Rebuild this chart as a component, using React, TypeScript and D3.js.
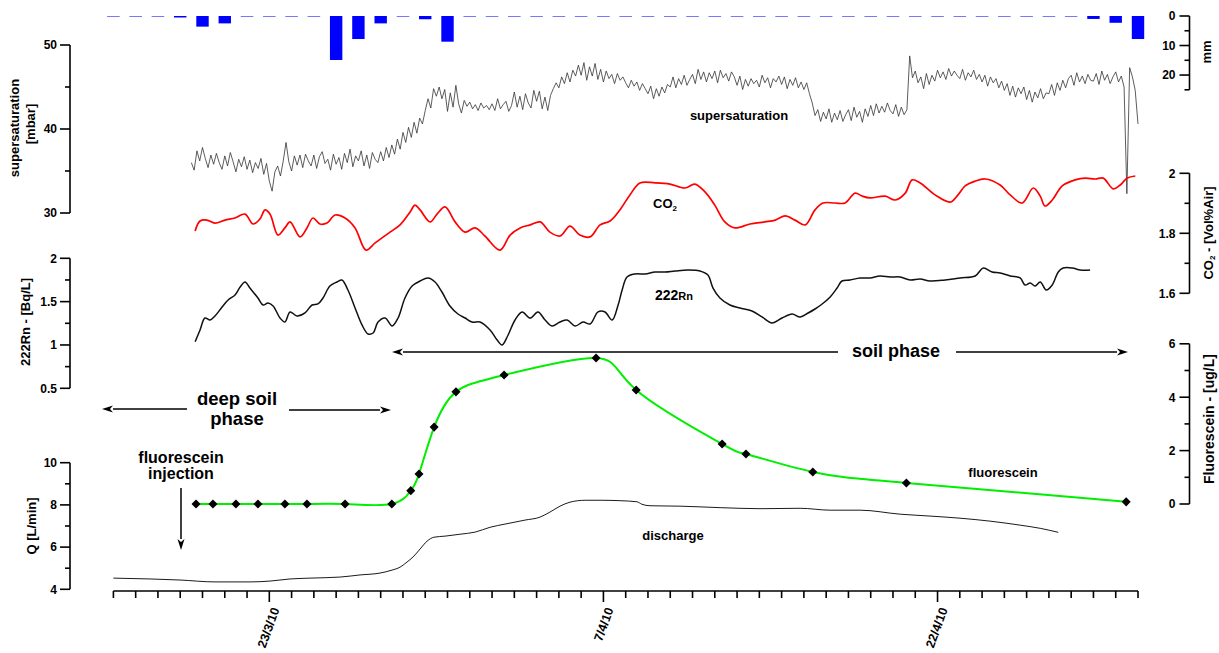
import React from 'react';
import * as d3 from 'd3';

// ---------- DATA ----------
const START = Date.UTC(2010, 2, 16);
const END = Date.UTC(2010, 4, 1);
const dayDate = (d: number) => new Date(START + d * 864e5);

// daily precipitation (mm), day 0 = 16/3/10
const rainDaily = [0, 0, 0, 0.4, 3.6, 2.5, 0, 0, 0, 0, 14.9, 7.8, 2.5, 0, 1.1, 8.7,
  0, 0, 0, 0, 0, 0, 0, 0, 0, 0, 0, 0, 0, 0, 0, 0, 0, 0, 0, 0, 0, 0, 0, 0, 0, 0, 0, 0,
  1.0, 2.3, 7.8];

// supersaturation [mbar], regular 3-hourly samples starting at day 3.5
const ssStart = 3.5;
const ssStep = 0.125;
const ssValues = [
  36.0, 35.1, 37.4, 36.2,
  37.8, 36.5, 35.4, 36.9, 35.8, 37.1, 36.0, 35.2,
  36.8, 35.6, 37.2, 36.1, 34.9, 36.4, 35.5, 36.7,
  35.2, 36.3, 34.8, 36.0, 35.3, 36.5, 34.6, 35.9,
  33.8, 32.6, 34.9, 35.6, 34.4, 36.2, 38.4, 36.1,
  35.0, 36.8, 35.7, 36.9, 35.4, 37.0, 36.2, 35.6,
  36.9, 35.3, 36.7, 37.3, 35.9, 36.4, 35.1, 37.0,
  35.8, 36.6, 35.2, 37.1, 36.0, 37.6, 35.5, 36.8,
  36.2, 37.4, 35.6, 36.9, 35.3, 37.2, 36.4, 36.0,
  37.3, 36.2, 37.8, 36.6, 38.1, 37.0, 38.8, 37.6,
  39.6, 38.4, 40.2, 39.0, 40.8, 39.5, 41.3, 40.6,
  42.2, 43.6, 42.5, 44.8, 43.9, 45.0, 43.6, 44.7,
  42.1, 44.3, 42.6, 45.2, 43.0, 41.9, 43.4, 42.7,
  43.2, 42.4, 42.9, 42.2, 43.1, 42.5, 42.8, 42.3,
  43.0, 42.2, 43.6, 42.4, 42.9, 43.3, 42.1, 42.8,
  44.4, 42.6, 43.9, 42.3, 44.2, 43.1, 42.5, 44.6,
  43.3, 44.5, 42.4, 43.8, 42.2, 44.0, 44.8, 45.5,
  44.9, 46.2, 45.4, 46.7, 45.6, 47.0, 46.3, 47.6,
  46.4, 47.9, 45.8, 47.4, 46.3, 47.8, 45.9, 47.1,
  45.6, 46.9, 46.0, 46.5, 45.4, 46.6, 45.8, 46.2,
  45.5, 44.9, 45.8, 45.1, 45.6, 44.6, 45.4, 44.8,
  44.2, 45.1, 43.6, 44.8, 43.9, 45.0, 44.3, 45.3,
  45.0, 46.2, 44.9, 46.0, 45.3, 46.4, 45.2, 45.9,
  46.5, 45.4, 47.1, 45.9, 46.8, 45.6, 46.7, 46.0,
  46.9, 45.5, 47.0, 46.1, 46.6, 45.7, 46.8, 46.2,
  45.2, 46.3, 44.7, 45.9, 45.1, 46.0, 45.4, 45.8,
  45.0, 46.4, 45.5, 46.1, 44.9, 46.0, 45.6, 46.3,
  45.3, 46.2, 44.8, 45.9, 45.2, 46.1, 44.9, 45.6,
  44.7, 45.5, 44.2, 43.1, 41.6, 42.3, 40.9, 42.0,
  41.2, 42.4, 40.8, 41.9, 41.1, 42.2, 40.9, 41.7,
  42.3, 41.0, 42.6, 41.4, 42.1, 40.8, 42.4, 41.5,
  42.8, 41.6, 43.0, 41.9, 42.7, 42.0, 43.1, 42.2,
  41.8, 42.9, 41.5, 42.6, 41.7, 42.3, 48.7, 46.1,
  46.9, 45.5, 46.2, 44.8, 46.6, 45.3, 46.4, 45.7,
  47.0, 46.1, 46.8, 45.9, 47.2, 46.3, 46.9, 46.4,
  46.0, 47.1, 45.8, 46.7, 46.2, 47.0, 45.9, 46.5,
  45.6, 46.4, 45.1, 46.2, 45.5, 46.0, 44.9, 45.7,
  44.6, 45.4, 44.0, 45.1, 43.8, 44.9, 44.2, 45.0,
  43.5, 44.6, 43.2, 44.4, 43.7, 44.8, 43.6, 44.3,
  44.2, 45.3, 44.0, 45.5, 44.6, 45.8, 44.9, 46.0,
  46.4, 45.2, 46.7, 45.6, 46.3, 45.4, 46.5, 45.8,
  45.7, 46.6, 45.3, 46.9, 45.8, 46.5, 45.4, 46.2,
  46.8, 45.6, 46.3, 45.0, 32.3, 47.3, 46.2, 44.6,
  40.6,
];

// CO2 [Vol% Air] : [day, value]
const co2 = [
  [3.67, 1.808], [3.89, 1.841], [4.2, 1.844], [4.56, 1.834], [5.01, 1.844], [5.46, 1.851], [5.91, 1.864], [6.27, 1.831], [6.58, 1.848], [6.81, 1.878],
  [7.03, 1.864], [7.39, 1.794], [7.7, 1.818], [7.93, 1.838], [8.38, 1.788], [8.69, 1.818], [8.96, 1.851], [9.27, 1.831], [9.59, 1.834], [9.95, 1.861],
  [10.4, 1.851], [10.85, 1.818], [11.34, 1.744], [11.75, 1.768], [12.42, 1.804], [12.87, 1.828], [13.32, 1.871], [13.54, 1.894], [13.77, 1.878], [14.22, 1.838],
  [14.53, 1.864], [14.89, 1.888], [15.34, 1.838], [15.79, 1.804], [16.24, 1.818], [16.68, 1.791], [17.36, 1.744], [17.81, 1.794], [18.26, 1.818], [18.71, 1.828],
  [19.16, 1.838], [19.6, 1.804], [20.05, 1.791], [20.5, 1.824], [20.94, 1.794], [21.4, 1.788], [21.85, 1.828], [22.3, 1.841], [22.74, 1.878], [23.19, 1.928],
  [23.64, 1.968], [24.32, 1.968], [24.99, 1.964], [25.66, 1.951], [26.1, 1.964], [26.56, 1.938], [27.0, 1.894], [27.45, 1.838], [27.9, 1.818], [28.58, 1.831],
  [29.25, 1.838], [29.72, 1.844], [30.16, 1.858], [30.6, 1.844], [31.06, 1.828], [31.5, 1.878], [31.86, 1.901], [32.4, 1.901], [32.85, 1.901], [33.3, 1.934],
  [33.62, 1.924], [33.97, 1.918], [34.65, 1.924], [35.1, 1.911], [35.55, 1.934], [35.86, 1.978], [36.22, 1.968], [36.89, 1.928], [37.57, 1.904], [37.92, 1.928],
  [38.24, 1.958], [38.69, 1.974], [39.14, 1.981], [39.81, 1.961], [40.26, 1.928], [40.8, 1.901], [41.3, 1.951], [41.61, 1.924], [41.83, 1.891], [42.15, 1.911],
  [42.6, 1.958], [43.18, 1.978], [43.63, 1.984], [44.08, 1.981], [44.44, 1.984], [44.89, 1.948], [45.2, 1.961], [45.52, 1.984], [45.88, 1.991],
];

// 222Rn [Bq/L] : [day, value]
const radon = [
  [3.67, 1.038], [3.89, 1.173], [4.11, 1.311], [4.34, 1.288], [4.56, 1.334], [4.88, 1.438], [5.15, 1.519], [5.46, 1.577], [5.69, 1.669], [5.91, 1.727],
  [6.13, 1.657], [6.49, 1.542], [6.72, 1.461], [6.94, 1.484], [7.17, 1.45], [7.48, 1.311], [7.7, 1.265], [7.93, 1.381], [8.24, 1.334], [8.6, 1.369],
  [8.92, 1.461], [9.18, 1.473], [9.41, 1.542], [9.72, 1.68], [10.04, 1.727], [10.26, 1.75], [10.53, 1.634], [10.85, 1.427], [11.16, 1.231], [11.43, 1.127],
  [11.66, 1.138], [11.88, 1.265], [12.2, 1.311], [12.51, 1.219], [12.78, 1.311], [13.09, 1.542], [13.41, 1.68], [13.77, 1.738], [14.13, 1.773], [14.44, 1.727],
  [14.75, 1.611], [15.11, 1.45], [15.47, 1.357], [15.79, 1.311], [16.1, 1.265], [16.46, 1.265], [16.91, 1.173], [17.23, 1.057], [17.45, 1.0], [17.72, 1.115],
  [18.03, 1.288], [18.35, 1.381], [18.71, 1.311], [19.06, 1.381], [19.38, 1.288], [19.69, 1.219], [20.05, 1.265], [20.37, 1.288], [20.73, 1.219], [21.09, 1.265],
  [21.4, 1.242], [21.76, 1.381], [22.07, 1.381], [22.39, 1.288], [22.66, 1.461], [22.84, 1.634], [23.06, 1.784], [23.42, 1.819], [23.87, 1.819], [24.32, 1.842],
  [24.77, 1.842], [25.22, 1.854], [25.8, 1.865], [26.33, 1.854], [26.69, 1.807], [26.92, 1.657], [27.23, 1.542], [27.68, 1.461], [28.13, 1.427], [28.67, 1.392],
  [29.12, 1.323], [29.57, 1.254], [30.02, 1.311], [30.47, 1.357], [30.83, 1.323], [31.19, 1.369], [31.5, 1.415], [31.82, 1.473], [32.18, 1.554], [32.49, 1.657],
  [32.71, 1.738], [33.07, 1.75], [33.52, 1.773], [33.97, 1.773], [34.42, 1.796], [34.87, 1.784], [35.32, 1.784], [35.77, 1.75], [36.22, 1.761], [36.66, 1.738],
  [37.34, 1.75], [38.01, 1.773], [38.69, 1.796], [39.05, 1.888], [39.45, 1.842], [39.81, 1.83], [40.26, 1.796], [40.71, 1.773], [40.93, 1.692], [41.16, 1.715],
  [41.38, 1.68], [41.61, 1.727], [41.88, 1.634], [42.15, 1.692], [42.42, 1.842], [42.64, 1.888], [43.05, 1.888], [43.41, 1.865], [43.85, 1.865],
];

// discharge Q [L/min] : [day, value]
const discharge = [
  [0, 4.53], [1.65, 4.49], [2.99, 4.44], [4.56, 4.35], [6.13, 4.35], [7.03, 4.39], [7.93, 4.49], [8.83, 4.53], [10.18, 4.58], [11.07, 4.68],
  [11.97, 4.77], [12.51, 4.91], [12.87, 5.05], [13.18, 5.29], [13.45, 5.53], [13.77, 5.91], [14.08, 6.28], [14.4, 6.47], [14.89, 6.52], [15.56, 6.61],
  [16.24, 6.71], [16.91, 6.94], [17.58, 7.09], [18.48, 7.28], [19.15, 7.42], [19.6, 7.66], [20.05, 7.94], [20.5, 8.13], [21.18, 8.22], [21.85, 8.22],
  [22.74, 8.2], [23.5, 8.15], [23.73, 8.03], [24.09, 7.96], [25.44, 7.94], [27.24, 7.87], [29.03, 7.82], [30.83, 7.84], [32.18, 7.75], [33.52, 7.75],
  [35.32, 7.56], [36.67, 7.47], [38.01, 7.37], [39.36, 7.23], [40.71, 7.04], [41.61, 6.89], [42.42, 6.7],
];

// fluorescein [ug/L] samples : [day, value]
const fluorescein = [
  [3.71, 0], [4.47, 0], [5.5, 0], [6.49, 0], [7.7, 0], [8.69, 0], [10.4, 0], [12.5, 0],
  [13.35, 0.5], [13.72, 1.12], [14.4, 2.88], [15.38, 4.2], [17.54, 4.83], [21.67, 5.47],
  [23.47, 4.27], [27.33, 2.25], [28.4, 1.87], [31.4, 1.2], [35.6, 0.79], [45.47, 0.08],
];

const majorTickDates = [Date.UTC(2010, 2, 23), Date.UTC(2010, 3, 7), Date.UTC(2010, 3, 22)];
const ssTicks = [30, 40, 50];
const ssMinor = [35, 45];
const rnTicks = [0.5, 1, 1.5, 2];
const rnMinor = [0.75, 1.25, 1.75];
const qTicks = [4, 6, 8, 10];
const qMinor = [5, 7, 9];
const mmTicks = [0, 10, 20];
const mmMinor = [5, 15, 25];
const co2Ticks = [1.6, 1.8, 2];
const co2Minor = [1.7, 1.9];
const flTicks = [0, 2, 4, 6];
const flMinor = [1, 3, 5];

// ---------- CHART ----------
const W = 1219;
const H = 653;
const FONT = "'Liberation Sans', Arial, Helvetica, sans-serif";

const x = d3.scaleUtc().domain([new Date(START), new Date(END)]).range([113.4, 1138]);
const ySS = d3.scaleLinear().domain([30, 50]).range([213, 45]);
const yRn = d3.scaleLinear().domain([0.5, 2]).range([388.3, 258.3]);
const yQ = d3.scaleLinear().domain([4, 10]).range([589.3, 462.7]);
const yMM = d3.scaleLinear().domain([0, 25]).range([16, 89.8]);
const yCO2 = d3.scaleLinear().domain([1.6, 2]).range([293.3, 173.3]);
const yFl = d3.scaleLinear().domain([0, 6]).range([504, 343.8]);

const fmtDate = d3.utcFormat('%-d/%-m/%y');

function YAxis({ scale, ticks, minor, side, x0, fmt }: any) {
  const [r0, r1] = scale.range();
  const dir = -1; // ticks point left on both sides
  const labelX = side === 'left' ? x0 - 13 : x0 - 14;
  return (
    <g>
      <line x1={x0} x2={x0} y1={r0} y2={r1} stroke="#000" strokeWidth={1.6} />
      {ticks.map((t: number) => (
        <g key={'M' + t}>
          <line x1={x0} x2={x0 + dir * 10} y1={scale(t)} y2={scale(t)} stroke="#000" strokeWidth={1.6} />
          <text x={labelX} y={scale(t)} dy="0.36em" textAnchor="end" fontSize={12} fontWeight="bold">
            {fmt ? fmt(t) : String(t)}
          </text>
        </g>
      ))}
      {minor.map((t: number) => (
        <line key={'m' + t} x1={x0} x2={x0 + dir * 5} y1={scale(t)} y2={scale(t)} stroke="#000" strokeWidth={1.6} />
      ))}
    </g>
  );
}

function Arrow({ x1, y1, x2, y2 }: any) {
  const ang = Math.atan2(y2 - y1, x2 - x1);
  const len = 11;
  const hw = 3.5;
  const bx = x2 - len * Math.cos(ang);
  const by = y2 - len * Math.sin(ang);
  const px = -Math.sin(ang) * hw;
  const py = Math.cos(ang) * hw;
  return (
    <g>
      <line x1={x1} y1={y1} x2={bx} y2={by} stroke="#000" strokeWidth={1.5} />
      <path d={`M${x2},${y2}L${bx + px},${by + py}L${bx + 3 * Math.cos(ang)},${by + 3 * Math.sin(ang)}L${bx - px},${by - py}Z`} fill="#000" />
    </g>
  );
}

export default function App() {
  const ssPts = ssValues.map((v, i) => [ssStart + i * ssStep, v]);
  const lineSS = d3.line<number[]>().x(d => x(dayDate(d[0]))).y(d => ySS(d[1]));
  const lineCO2 = d3.line<number[]>().x(d => x(dayDate(d[0]))).y(d => yCO2(d[1])).curve(d3.curveCatmullRom.alpha(0.5));
  const lineRn = d3.line<number[]>().x(d => x(dayDate(d[0]))).y(d => yRn(d[1])).curve(d3.curveCatmullRom.alpha(0.5));
  const lineQ = d3.line<number[]>().x(d => x(dayDate(d[0]))).y(d => yQ(d[1])).curve(d3.curveMonotoneX);
  const lineFl = d3.line<number[]>().x(d => x(dayDate(d[0]))).y(d => yFl(d[1])).curve(d3.curveNatural);

  const allDays = d3.utcDay.range(new Date(START), new Date(END + 1));
  const majorSet = new Set(majorTickDates);
  const axisY = 591;

  return (
    <svg width={W} height={H} style={{ position: 'absolute', left: 0, top: 0, background: '#fff' }}
      fontFamily={FONT}>
      <rect x={0} y={0} width={W} height={H} fill="#fff" />

      {/* precipitation bars */}
      {rainDaily.map((v, i) => {
        const cx = x(dayDate(i));
        if (v <= 0) {
          return <line key={'r' + i} x1={cx - 6.3} x2={cx + 6.3} y1={16.5} y2={16.5} stroke="#7878ff" strokeWidth={1} />;
        }
        const h = Math.max(yMM(v) - 16, 1.5);
        return <rect key={'r' + i} x={cx - 6.2} y={16} width={12.4} height={h} fill="#0000ff" />;
      })}

      {/* supersaturation */}
      <path d={lineSS(ssPts) || ''} fill="none" stroke="#333" strokeWidth={0.8} />
      {/* CO2 */}
      <path d={lineCO2(co2 as number[][]) || ''} fill="none" stroke="#ff0000" strokeWidth={1.7} />
      {/* Radon */}
      <path d={lineRn(radon as number[][]) || ''} fill="none" stroke="#111" strokeWidth={1.5} />
      {/* Discharge */}
      <path d={lineQ(discharge as number[][]) || ''} fill="none" stroke="#000" strokeWidth={0.9} />
      {/* Fluorescein */}
      <path d={lineFl(fluorescein as number[][]) || ''} fill="none" stroke="#00ee00" strokeWidth={2} />
      {fluorescein.map((d, i) => (
        <rect key={'f' + i} x={-3.2} y={-3.2} width={6.4} height={6.4} fill="#000"
          transform={`translate(${x(dayDate(d[0]))},${yFl(d[1])}) rotate(45)`} />
      ))}

      {/* left axes */}
      <YAxis scale={ySS} ticks={ssTicks} minor={ssMinor} side="left" x0={70} />
      <YAxis scale={yRn} ticks={rnTicks} minor={rnMinor} side="left" x0={70} />
      <YAxis scale={yQ} ticks={qTicks} minor={qMinor} side="left" x0={70} />
      {/* right axes */}
      <YAxis scale={yMM} ticks={mmTicks} minor={mmMinor} side="right" x0={1189.5} />
      <YAxis scale={yCO2} ticks={co2Ticks} minor={co2Minor} side="right" x0={1189.5} />
      <YAxis scale={yFl} ticks={flTicks} minor={flMinor} side="right" x0={1189.5} />

      {/* x axis */}
      <line x1={x.range()[0]} x2={x.range()[1]} y1={axisY} y2={axisY} stroke="#000" strokeWidth={1.6} />
      {allDays.map((d) => {
        const major = majorSet.has(d.getTime());
        return <line key={'x' + d.getTime()} x1={x(d)} x2={x(d)} y1={axisY} y2={axisY + (major ? 11 : 7)} stroke="#000" strokeWidth={1.6} />;
      })}
      {majorTickDates.map((t) => (
        <text key={'xl' + t} transform={`translate(${x(new Date(t)) + 6},${608}) rotate(-70)`} textAnchor="end" dy="0.36em"
          fontSize={12.5} fontWeight="bold">{fmtDate(new Date(t))}</text>
      ))}

      {/* axis titles */}
      <g fontWeight="bold" fontSize={13}>
        <text transform="translate(14,128) rotate(-90)" textAnchor="middle" dy="0.36em">supersaturation</text>
        <text transform="translate(30,124) rotate(-90)" textAnchor="middle" dy="0.36em">[mbar]</text>
        <text transform="translate(25,322) rotate(-90)" textAnchor="middle" dy="0.36em">222Rn - [Bq/L]</text>
        <text transform="translate(31,526) rotate(-90)" textAnchor="middle" dy="0.36em">Q [L/min]</text>
        <text transform="translate(1206,52) rotate(-90)" textAnchor="middle" dy="0.36em">mm</text>
        <text transform="translate(1208,233) rotate(-90)" textAnchor="middle" dy="0.36em">
          CO<tspan fontSize={8} dy="2">2</tspan><tspan dy="-2"> - [Vol%Air]</tspan>
        </text>
        <text transform="translate(1209,419) rotate(-90)" textAnchor="middle" dy="0.36em" fontSize={14}>Fluorescein - [ug/L]</text>
      </g>

      {/* series labels */}
      <g fontWeight="bold" fontSize={13}>
        <text x={739} y={120} textAnchor="middle">supersaturation</text>
        <text x={653} y={208}>CO<tspan fontSize={8} dy="3">2</tspan></text>
        <text x={655} y={300}><tspan fontSize={14}>222</tspan><tspan fontSize={11}>Rn</tspan></text>
        <text x={1003} y={477} textAnchor="middle">fluorescein</text>
        <text x={673} y={540} textAnchor="middle">discharge</text>
      </g>

      {/* annotations */}
      <g fontWeight="bold">
        <text x={896} y={357} textAnchor="middle" fontSize={18}>soil phase</text>
        <Arrow x1={838} y1={352} x2={392} y2={352} />
        <Arrow x1={956} y1={352} x2={1128} y2={352} />

        <text x={237} y={405} textAnchor="middle" fontSize={18.5}>deep soil</text>
        <text x={237} y={425} textAnchor="middle" fontSize={18.5}>phase</text>
        <Arrow x1={187} y1={409} x2={102} y2={409} />
        <Arrow x1={289} y1={410} x2={391} y2={410} />

        <text x={181} y={463} textAnchor="middle" fontSize={16}>fluorescein</text>
        <text x={181} y={479} textAnchor="middle" fontSize={16}>injection</text>
        <Arrow x1={181} y1={488} x2={181} y2={550} />
      </g>
    </svg>
  );
}
